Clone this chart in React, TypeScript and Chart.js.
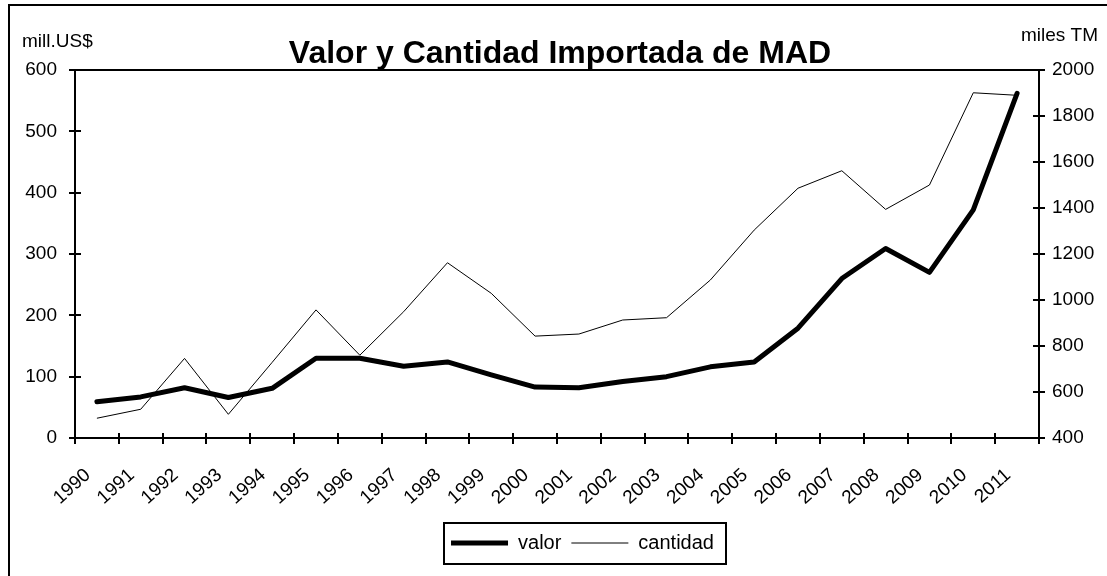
import React, { useEffect, useRef } from "react";
import { Chart, registerables } from "chart.js";

Chart.register(...registerables);

const years = [
  "1990", "1991", "1992", "1993", "1994", "1995", "1996", "1997", "1998", "1999", "2000",
  "2001", "2002", "2003", "2004", "2005", "2006", "2007", "2008", "2009", "2010", "2011",
];
const valor = [59, 67, 82, 66, 81, 130, 130, 117, 124, 103, 83, 82, 92, 100, 116, 124, 179, 260, 309, 270, 372, 562];
const cantidad = [486, 525, 746, 503, 729, 957, 760, 949, 1162, 1029, 843, 852, 913, 923, 1087, 1304, 1486, 1562, 1394, 1500, 1901, 1890];

const titleText = "Valor y Cantidad Importada de MAD";
const leftUnit = "mill.US$";
const rightUnit = "miles TM";

const FONT = "'Liberation Sans', Arial, sans-serif";
const TICK_FONT = { family: FONT, size: 19 };
const LEGEND_FONT = { family: FONT, size: 20 };

const framePlugin = {
  id: "frame",
  afterLayout(chart: any) {
    const lg = chart.legend;
    if (!lg) return;
    lg.left += 24;
    lg.right += 24;
  },
  afterDraw(chart: any) {
    const { ctx, chartArea: a, scales } = chart;
    ctx.save();
    ctx.strokeStyle = "#000";
    ctx.lineWidth = 2;
    ctx.lineCap = "butt";
    ctx.strokeRect(a.left, a.top, a.right - a.left, a.bottom - a.top);
    ctx.beginPath();
    scales.y.ticks.forEach((t: any) => {
      const py = Math.round(scales.y.getPixelForValue(t.value));
      ctx.moveTo(a.left - 6, py);
      ctx.lineTo(a.left + 6, py);
    });
    scales.y1.ticks.forEach((t: any) => {
      const py = Math.round(scales.y1.getPixelForValue(t.value));
      ctx.moveTo(a.right - 6, py);
      ctx.lineTo(a.right + 6, py);
    });
    for (let i = 0; i <= years.length; i++) {
      const px = Math.round(scales.x.getPixelForValue(i - 0.5));
      ctx.moveTo(px, a.bottom - 5);
      ctx.lineTo(px, a.bottom + 6);
    }
    ctx.stroke();

    ctx.fillStyle = "#000";
    ctx.textBaseline = "alphabetic";
    ctx.font = `bold 32px ${FONT}`;
    ctx.textAlign = "center";
    ctx.fillText(titleText, (a.left + a.right) / 2 + 3, a.top - 7);
    ctx.font = `19px ${FONT}`;
    ctx.textAlign = "left";
    ctx.fillText(leftUnit, 12, 41);
    ctx.textAlign = "right";
    ctx.fillText(rightUnit, chart.width - 9, 35);

    const lg = chart.legend;
    const hb = lg ? lg.legendHitBoxes || [] : [];
    if (hb.length) {
      const l = Math.min(...hb.map((h: any) => h.left)) - 7;
      const r = Math.max(...hb.map((h: any) => h.left + h.width)) + 12;
      const cy = hb[0].top + hb[0].height / 2;
      ctx.lineWidth = 2;
      ctx.strokeStyle = "#000";
      ctx.strokeRect(Math.round(l), Math.round(cy - 20), Math.round(r - l), 41);
    }
    ctx.restore();
  },
};

export default function App() {
  const ref = useRef<HTMLCanvasElement | null>(null);
  useEffect(() => {
    if (!ref.current) return;
    const chart = new Chart(ref.current, {
      type: "line",
      data: {
        labels: years,
        datasets: [
          {
            label: "valor",
            data: valor,
            yAxisID: "y",
            borderColor: "#000",
            backgroundColor: "#000",
            borderWidth: 5,
            pointRadius: 0,
            tension: 0,
            borderJoinStyle: "round",
            borderCapStyle: "round",
          },
          {
            label: "cantidad",
            data: cantidad,
            yAxisID: "y1",
            borderColor: "#000",
            backgroundColor: "#000",
            borderWidth: 1,
            pointRadius: 0,
            tension: 0,
          },
        ],
      },
      options: {
        responsive: false,
        animation: false,
        devicePixelRatio: 1,
        layout: { padding: { top: 64, left: 0, right: 0, bottom: 13 } },
        plugins: {
          title: { display: false },
          tooltip: { enabled: false },
          legend: {
            position: "bottom",
            labels: {
              color: "#000",
              font: LEGEND_FONT,
              usePointStyle: true,
              pointStyle: "line",
              pointStyleWidth: 57,
              padding: 10,
            },
          },
        },
        scales: {
          x: {
            type: "category",
            offset: true,
            grid: { display: false },
            border: { display: false },
            ticks: {
              color: "#000",
              font: TICK_FONT,
              autoSkip: false,
              minRotation: 42,
              maxRotation: 42,
              padding: 18,
              labelOffset: -9,
            },
            afterFit: (s: any) => {
              s.height = 85;
            },
          },
          y: {
            position: "left",
            min: 0,
            max: 600,
            grid: { display: false },
            border: { display: false },
            ticks: { stepSize: 100, color: "#000", font: TICK_FONT, padding: 10 },
            afterFit: (s: any) => {
              s.width = 65;
            },
          },
          y1: {
            position: "right",
            min: 400,
            max: 2000,
            grid: { display: false },
            border: { display: false },
            ticks: {
              stepSize: 200,
              color: "#000",
              font: TICK_FONT,
              padding: 5,
              callback: (v: any) => String(v),
            },
            afterFit: (s: any) => {
              s.width = 68;
            },
          },
        },
      },
      plugins: [framePlugin],
    } as any);
    return () => chart.destroy();
  }, []);

  return (
    <div
      style={{
        position: "absolute",
        left: 8,
        top: 4,
        width: 1099,
        height: 572,
        boxSizing: "border-box",
        borderTop: "2px solid #000",
        borderLeft: "2px solid #000",
        background: "#fff",
      }}
    >
      <canvas ref={ref} width={1097} height={570} style={{ display: "block" }} />
    </div>
  );
}
